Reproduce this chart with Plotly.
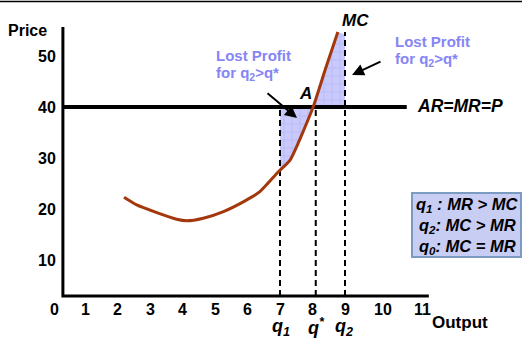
import plotly.graph_objects as go

W, H = 522, 338

# ---- data ----
mc_x = [2.2, 2.59, 3.21, 3.82, 4.13, 4.64, 5.26, 5.87, 6.38, 6.95, 7.31, 8.02, 8.4, 8.78]
mc_y = [22.3, 20.8, 19.3, 18.0, 17.7, 18.2, 19.5, 21.4, 23.4, 27.3, 29.6, 40.0, 47.5, 54.7]
price = 40
q1, q_star, q2 = 7, 8.1, 9
y_ticks = [10, 20, 30, 40, 50]
x_ticks = [0, 1, 2, 3, 4, 5, 6, 7, 8, 9, 10, 11]
lower_fill_x = [7, 7, 7.31, 8.02]
lower_fill_y = [40, 27.6, 29.6, 40]
upper_fill_x = [8.02, 8.4, 8.78, 9, 9]
upper_fill_y = [40, 47.5, 54.7, 54.2, 40]
legend_lines = ["q<sub>1</sub> : MR > MC", "q<sub>2</sub>: MC > MR", "q<sub>0</sub>: MC = MR"]

x0_axis, y0_axis = 0.32, 2.94
x_end, y_top = 11.58, 55.7
price_line_end = 10.9

FONT = "Liberation Sans, Arial, sans-serif"
LAV_TXT = "#8585f5"

fig = go.Figure()

pat = dict(shape="+", bgcolor="#c9c9fb", fgcolor="#a0a0f0", size=8, solidity=0.15)
fig.add_trace(go.Scatter(x=lower_fill_x, y=lower_fill_y, fill="toself", mode="lines",
                         line=dict(width=0), fillcolor="#c9c9fb", fillpattern=pat,
                         hoverinfo="skip", showlegend=False))
fig.add_trace(go.Scatter(x=upper_fill_x, y=upper_fill_y, fill="toself", mode="lines",
                         line=dict(width=0), fillcolor="#c9c9fb", fillpattern=pat,
                         hoverinfo="skip", showlegend=False))

# dashed verticals
for qx, ytop in [(q1, price), (q_star, price), (q2, 54.7)]:
    fig.add_trace(go.Scatter(x=[qx, qx], y=[y0_axis, ytop], mode="lines",
                             line=dict(color="black", width=2, dash="6px,4px"),
                             hoverinfo="skip", showlegend=False))

# price line
fig.add_trace(go.Scatter(x=[x0_axis, price_line_end], y=[price, price], mode="lines",
                         line=dict(color="black", width=4), showlegend=False))

# MC curve
fig.add_trace(go.Scatter(x=mc_x, y=mc_y, mode="lines",
                         line=dict(color="#a3380c", width=3, shape="spline", smoothing=0.5),
                         showlegend=False))

# axes
fig.add_trace(go.Scatter(x=[x0_axis, x0_axis, x_end], y=[y_top, y0_axis, y0_axis], mode="lines",
                         line=dict(color="black", width=3), showlegend=False))

ann = []
for v in y_ticks:
    ann.append(dict(x=0.18, y=v, text=f"<b>{v}</b>", xanchor="right", yanchor="middle",
                    showarrow=False, font=dict(size=16, family=FONT, color="black")))
xshift = {10: 5, 11: 12, 0: 2}
for v in x_ticks:
    ann.append(dict(x=v, y=0.2, text=f"<b>{v}</b>", xanchor="center", yanchor="middle",
                    xshift=xshift.get(v, 0),
                    showarrow=False, font=dict(size=16, family=FONT, color="black")))

def P(xp, yp):
    return xp / W, 1 - yp / H

def txt(xp, yp, t, size, color="black", xa="center", italic=False):
    x, y = P(xp, yp)
    t2 = f"<b><i>{t}</i></b>" if italic else f"<b>{t}</b>"
    ann.append(dict(x=x, y=y, xref="paper", yref="paper", text=t2, xanchor=xa, yanchor="middle",
                    showarrow=False, font=dict(size=size, family=FONT, color=color)))

txt(6, 30, "Price", 16, xa="left")
txt(430, 322, "Output", 17, xa="left")
txt(355, 21, "MC", 17, italic=True)
txt(305, 94, "A", 17, italic=True)
txt(415, 106, "AR=MR=P", 17.5, xa="left", italic=True)
txt(281, 327, "q<sub>1</sub>", 18, italic=True)
txt(316, 326, "q<sup>*</sup>", 18, italic=True)
txt(344, 327, "q<sub>2</sub>", 18, italic=True)

for (xp, y1, y2) in [(214, 56, 73), (393, 42, 59)]:
    txt(xp, y1, "Lost Profit", 15, color=LAV_TXT, xa="left")
    txt(xp, y2, "for q<sub>2</sub>>q*", 15, color=LAV_TXT, xa="left")

for i, line in enumerate(legend_lines):
    txt(467, 205 + i * 21, line, 16.5, italic=True)

# arrows
for (tx, ty, hx, hy) in [(266, 92, 297, 118), (382, 61, 352, 75)]:
    hx2, hy2 = P(hx, hy)
    ann.append(dict(x=hx2, y=hy2, ax=tx - hx, ay=ty - hy, xref="paper", yref="paper",
                    axref="pixel", ayref="pixel", text="", showarrow=True,
                    arrowhead=2, arrowsize=1.2, arrowwidth=2, arrowcolor="black"))

shapes = []
bx0, by0 = P(412, 193)
bx1, by1 = P(521, 257)
shapes.append(dict(type="rect", xref="paper", yref="paper", x0=bx0, y0=by1, x1=bx1, y1=by0,
                   fillcolor="#c8cdf4", line=dict(color="#7b9cc0", width=2), layer="below"))
shapes.append(dict(type="line", xref="paper", yref="paper", x0=0, x1=1, y0=1 - 1.5 / H, y1=1 - 1.5 / H,
                   line=dict(color="black", width=1.5)))

fig.update_layout(
    width=W, height=H, margin=dict(l=0, r=0, t=0, b=0),
    paper_bgcolor="white", plot_bgcolor="white",
    xaxis=dict(range=[-52.5 / 32.5, (W - 52.5) / 32.5], visible=False, fixedrange=True),
    yaxis=dict(range=[40 - (H - 107) / 5.1, 40 + 107 / 5.1], visible=False, fixedrange=True),
    annotations=ann, shapes=shapes, showlegend=False,
)

fig.write_html("out.html", config={"displayModeBar": False},
               post_script="document.body.style.margin='0px';document.body.style.overflow='hidden';")
